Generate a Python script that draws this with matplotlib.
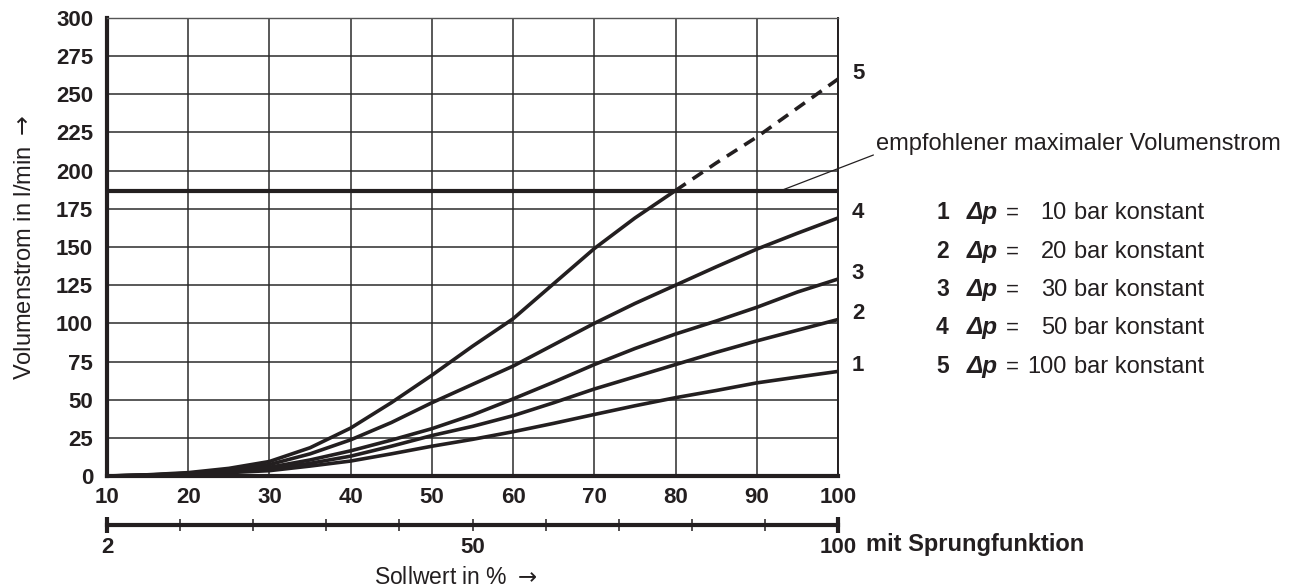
import matplotlib
matplotlib.use("Agg")
import matplotlib.pyplot as plt
from matplotlib.ticker import FixedLocator, FixedFormatter

# Sollwert in % (Stützstellen der Kennlinien)
sollwert = [10, 15, 20, 25, 30, 35, 40, 45, 50, 55, 60, 65, 70, 75, 80, 85, 90, 95, 100]

# Volumenstrom in l/min je Kennlinie
q_10bar = [0, 0.3, 1.0, 2.2, 3.5, 6.5, 9.8, 14.5, 19.5, 24, 29, 34.5, 40.3, 46, 51.3, 56, 61, 64.8, 68.5]
q_20bar = [0, 0.4, 1.3, 2.8, 4.5, 8.3, 13, 19.5, 26.5, 32.5, 39.5, 48, 57, 65, 73, 81, 88.5, 95.5, 102.5]
q_30bar = [0, 0.5, 1.5, 3.2, 5.7, 10.5, 16.5, 23.5, 31, 40, 50.5, 61.5, 73, 83.5, 93, 101.5, 110.5, 120.5, 129]
q_50bar = [0, 0.6, 1.8, 4.0, 7.5, 14.5, 23.7, 35, 48, 60, 72, 86, 100, 113, 125, 137, 148.6, 159, 169]
q_100bar = [0, 0.8, 2.2, 5.0, 9.5, 18.5, 31.4, 48, 66, 85, 103, 126, 149, 169, 187, 205, 222, 241, 260]

kennlinien = [q_10bar, q_20bar, q_30bar, q_50bar, q_100bar]
kurven_nr = ["1", "2", "3", "4", "5"]
delta_p = [10, 20, 30, 50, 100]

q_max_empfohlen = 187
grenze_gestrichelt = 80  # ab hier Kennlinie 5 gestrichelt

# zweite Skala (mit Sprungfunktion)
sprung_labels = ["2", "50", "100"]

W, H = 1294, 586
fig = plt.figure(figsize=(W / 100, H / 100), dpi=100)
fig.patch.set_facecolor("white")
plt.rcParams["mathtext.fontset"] = "dejavusans"

NARROW = ["Liberation Sans Narrow", "Liberation Sans", "DejaVu Sans"]
SANS = ["Liberation Sans", "DejaVu Sans"]
ink = "#231f20"

ax = fig.add_axes([107 / W, (H - 476) / H, 731 / W, 458 / H])
ax.set_xlim(10, 100)
ax.set_ylim(0, 300)
ax.set_xticks(range(10, 101, 10))
ax.set_yticks(range(0, 301, 25))
ax.grid(True, color="#2b2b2b", linewidth=1.1)
ax.set_axisbelow(True)
ax.tick_params(length=0)
ax.tick_params(axis="y", pad=10)
ax.tick_params(axis="x", pad=8)
for lab in ax.get_xticklabels() + ax.get_yticklabels():
    lab.set_fontfamily(NARROW)
    lab.set_fontweight("bold")
    lab.set_fontsize(16)
    lab.set_color(ink)

ax.spines["left"].set_linewidth(3.0)
ax.spines["bottom"].set_linewidth(3.0)
ax.spines["top"].set_linewidth(1.0)
ax.spines["right"].set_linewidth(1.4)
ax.spines["top"].set_color("#555555")
for s in ax.spines.values():
    if s is not ax.spines["top"]:
        s.set_color(ink)

# empfohlener maximaler Volumenstrom
ax.plot([10, 100], [q_max_empfohlen, q_max_empfohlen], color=ink, lw=3.0,
        solid_capstyle="butt", zorder=3)

for nr, q in zip(kurven_nr, kennlinien):
    if nr == "5":
        xs = [x for x in sollwert if x <= grenze_gestrichelt]
        xd = [x for x in sollwert if x >= grenze_gestrichelt]
        ax.plot(xs, q[:len(xs)], color=ink, lw=2.6, zorder=4, solid_capstyle="butt")
        ax.plot(xd, q[len(xs) - 1:], color=ink, lw=2.6, zorder=4,
                linestyle=(0, (3.4, 2.3)), dash_capstyle="butt")
    else:
        ax.plot(sollwert, q, color=ink, lw=2.6, zorder=4)
    ax.annotate(nr, xy=(100, q[-1]), xytext=(10, 4), textcoords="offset points",
                ha="left", va="center", fontsize=16, fontweight="bold",
                family=NARROW, color=ink, annotation_clip=False)

ax.set_ylabel("Volumenstrom in l/min $\\rightarrow$", fontsize=17, family=SANS,
              color=ink, labelpad=14)

# Hinweislinie zum Text
ax.annotate("", xy=(93, q_max_empfohlen), xytext=(876 / W, 1 - 154 / H),
            textcoords="figure fraction",
            arrowprops=dict(arrowstyle="-", color=ink, lw=0.9))
fig.text(876 / W, 1 - 150 / H, "empfohlener maximaler Volumenstrom",
         fontsize=17, family=SANS, color=ink, ha="left", va="baseline")

# Legende der Kennlinien (gemeinsame Grundlinie je Zeile)
row_y = [219, 258, 296, 334, 373]
for nr, dp, yy in zip(kurven_nr, delta_p, row_y):
    yf = 1 - yy / H
    fig.text(936 / W, yf, nr, fontsize=16.5, fontweight="bold", family=SANS,
             color=ink, va="baseline", ha="left")
    fig.text(967 / W, yf, "\u0394p", fontsize=17.5, fontweight="bold",
             fontstyle="italic", family=SANS, color=ink, va="baseline", ha="left")
    fig.text(1006 / W, yf, "=", fontsize=16, family=SANS, color=ink,
             va="baseline", ha="left")
    fig.text(1067 / W, yf, str(dp), fontsize=17, family=SANS, color=ink,
             va="baseline", ha="right")
    fig.text(1074 / W, yf, "bar konstant", fontsize=17, family=SANS,
             color=ink, va="baseline", ha="left")

# zweite Skala
ax2 = fig.add_axes([107 / W, (H - 525) / H, 731 / W, 0.0001])
ax2.set_xlim(0, 10)
ax2.set_yticks([])
for side in ("top", "left", "right"):
    ax2.spines[side].set_visible(False)
ax2.spines["bottom"].set_linewidth(3.0)
ax2.spines["bottom"].set_color(ink)
ax2.xaxis.set_major_locator(FixedLocator([0, 10]))
ax2.xaxis.set_major_formatter(FixedFormatter([sprung_labels[0], sprung_labels[2]]))
ax2.xaxis.set_minor_locator(FixedLocator(list(range(1, 10))))
ax2.xaxis.set_minor_formatter(FixedFormatter(["", "", "", "", sprung_labels[1], "", "", "", ""]))
ax2.tick_params(axis="x", which="major", direction="inout", length=11, width=3.0,
                color=ink, pad=3)
ax2.tick_params(axis="x", which="minor", direction="inout", length=9, width=1.1,
                color=ink, pad=4)
for lab in ax2.get_xticklabels(which="both"):
    lab.set_fontfamily(NARROW)
    lab.set_fontweight("bold")
    lab.set_fontsize(16)
    lab.set_color(ink)

fig.text(866 / W, 1 - 545 / H, "mit Sprungfunktion", fontsize=17,
         fontweight="bold", family=SANS, color=ink, ha="left", va="center")
fig.text(456 / W, 1 - 577 / H, "Sollwert in % $\\rightarrow$", fontsize=16.5,
         family=SANS, color=ink, ha="center", va="center")

fig.savefig("out.png", dpi=100, facecolor="white")
